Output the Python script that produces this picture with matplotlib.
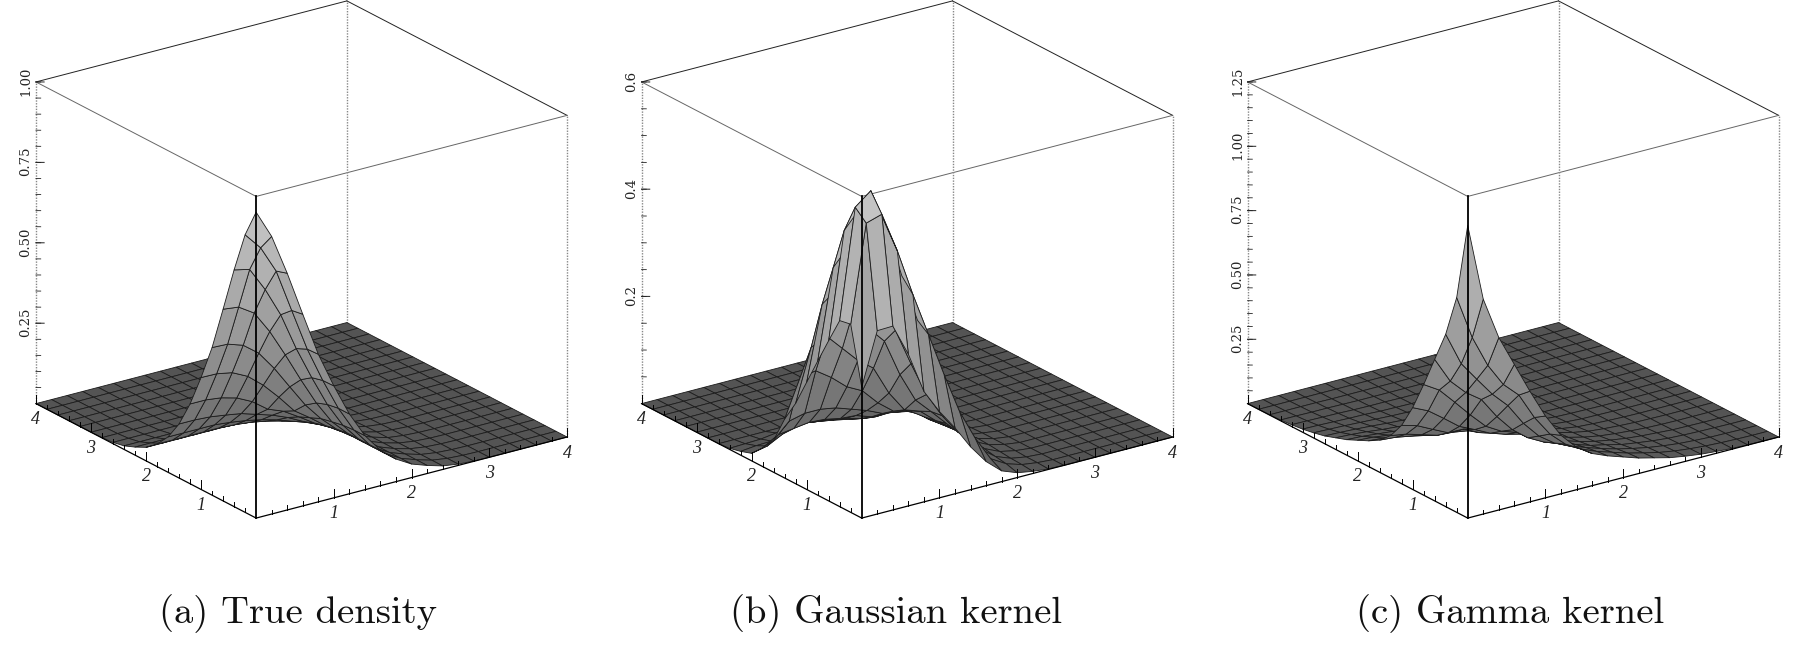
import numpy as np
import matplotlib
import matplotlib.pyplot as plt
from mpl_toolkits.mplot3d import proj3d

matplotlib.use("Agg")

W, H = 1793, 654
GRID = np.round(np.arange(21) * 0.2, 1)

# surface heights, nodes 0.2 apart, x index first
# true density and gamma kernel are symmetric: each row starts on the diagonal
TRUE_ROWS = [
    [.951, .863, .736, .596, .459, .348, .248, .168, .110, .070, .042, .025, .011, .004, .001],
    [.810, .725, .590, .457, .347, .248, .168, .110, .070, .042, .025, .011, .004, .001],
    [.650, .559, .441, .338, .242, .165, .110, .070, .042, .025, .011, .004, .001],
    [.489, .404, .314, .229, .158, .110, .070, .042, .024, .011, .004, .001],
    [.344, .274, .205, .150, .105, .070, .042, .024, .011, .004, .001],
    [.224, .169, .135, .098, .067, .042, .024, .010, .004, .001],
    [.150, .120, .088, .062, .040, .022, .010, .004, .001],
    [.100, .075, .053, .034, .020, .009, .003, .001],
    [.058, .041, .027, .015, .007, .002, .001],
    [.030, .020, .010, .004, .001],
    [.012, .006, .002],
    [.003, .001],
]
GAMMA_ROWS = [
    [1.137, .835, .670, .550, .430, .318, .227, .165, .125, .100, .080, .060, .045, .030, .020, .012, .007, .003, .001],
    [.664, .540, .450, .393, .290, .210, .155, .120, .095, .076, .057, .042, .028, .018, .011, .006, .003, .001],
    [.464, .390, .330, .245, .180, .137, .109, .088, .068, .051, .037, .025, .016, .009, .005, .002, .001],
    [.347, .265, .198, .151, .119, .096, .078, .058, .045, .030, .021, .013, .007, .004, .002, .001],
    [.205, .170, .150, .115, .090, .070, .051, .036, .025, .016, .010, .006, .002, .001],
    [.140, .120, .105, .085, .065, .045, .030, .019, .012, .007, .003, .001],
    [.105, .090, .075, .060, .042, .026, .015, .009, .005, .002, .001],
    [.072, .060, .047, .032, .019, .010, .006, .003, .001],
    [.047, .034, .023, .013, .007, .003, .002, .001],
    [.025, .016, .009, .004, .002, .001],
    [.010, .005, .002, .001],
    [.002, .001],
]
GAUSS_ROWS = [
    [.244, .351, .347, .299, .250, .200, .150, .110, .060, .035, .014, .007, .002],
    [.342, .532, .551, .497, .417, .338, .247, .180, .088, .052, .020, .010, .003],
    [.343, .541, .574, .530, .450, .360, .260, .185, .095, .056, .035, .011, .004],
    [.283, .465, .500, .470, .390, .310, .230, .165, .095, .060, .050, .030, .008],
    [.206, .376, .400, .385, .330, .270, .200, .140, .090, .058, .043, .030, .010],
    [.161, .294, .310, .300, .270, .239, .178, .125, .080, .052, .040, .025, .012],
    [.123, .212, .225, .220, .200, .169, .124, .095, .070, .050, .034, .020, .008],
    [.080, .135, .145, .145, .135, .114, .085, .072, .057, .040, .026, .014, .005],
    [.045, .078, .085, .090, .088, .085, .075, .065, .052, .040, .022, .008, .002],
    [.020, .032, .040, .048, .050, .055, .050, .046, .046, .037, .023, .010, .003],
    [.009, .015, .018, .022, .025, .030, .030, .026, .023, .023, .020, .006, .001],
    [.004, .006, .007, .009, .011, .012, .008, .006, .004, .003, .002, .001],
    [.001, .002, .002, .003, .004, .004, .004, .003, .002, .001, .001, .001],
]

Z_MAX = [1.0, 0.6, 1.25]
Z_TICKS = [[0.25, 0.50, 0.75, 1.00], [0.2, 0.4, 0.6], [0.25, 0.50, 0.75, 1.00, 1.25]]
Z_LABELS = [["0.25", "0.50", "0.75", "1.00"], ["0.2", "0.4", "0.6"], ["0.25", "0.50", "0.75", "1.00", "1.25"]]
Z_MINOR = [0.05, 0.05, 0.05]
XY_TICKS = [1, 2, 3, 4]
CAPTIONS = ["(a) True density", "(b) Gaussian kernel", "(c) Gamma kernel"]
CAPTION_X = [298, 896.5, 1510]
CENTER_X = [301.5, 907.1, 1513.1]   # pixel position of the box centre
CENTER_Y = 259.5

AXES_SIZE = 621.6


def symmetric_grid(rows):
    z = np.zeros((21, 21))
    for i, row in enumerate(rows):
        z[i, i:i + len(row)] = row
        z[i:i + len(row), i] = row
    return z


def full_grid(rows):
    z = np.zeros((21, 21))
    for i, row in enumerate(rows):
        z[i, :len(row)] = row
    return z


def cell_colors(z, zmax):
    mean = (z[:-1, :-1] + z[1:, :-1] + z[:-1, 1:] + z[1:, 1:]) / 4
    g = 0.33 + 0.47 * np.clip(mean / zmax, 0, 1) ** 0.8
    return np.dstack([g, g, g, np.ones_like(g)])


def label_at(ax, x, y, z, s, **kw):
    # 3d text would keep its raw position, so project it first
    px, py, _ = proj3d.proj_transform(x, y, z, ax.get_proj())
    ax.text2D(px, py, s, transform=ax.transData, ha="center", va="center", color="#222222", **kw)


def draw_panel(fig, z, n):
    zmax = Z_MAX[n]
    left = (CENTER_X[n] - 0.5135 * AXES_SIZE) / W
    bottom = (H - CENTER_Y - 0.5135 * AXES_SIZE) / H
    ax = fig.add_axes([left, bottom, AXES_SIZE / W, AXES_SIZE / H], projection="3d")
    ax.set_proj_type("ortho")
    ax.view_init(elev=21.6, azim=-125.3)
    ax.set_box_aspect((1, 1, 0.908))
    ax.set_xlim(0, 4)
    ax.set_ylim(0, 4)
    ax.set_zlim(0, zmax)
    ax.set_axis_off()
    ax.set_facecolor("none")
    ax.computed_zorder = False

    # box edges behind the surface
    dots = (0, (1, 1))
    for xs, ys, zs, c, ls, lw in [
        ([0, 4], [4, 4], [zmax, zmax], "#222222", "-", 0.7),
        ([4, 4], [4, 0], [zmax, zmax], "#222222", "-", 0.7),
        ([0, 0], [4, 0], [zmax, zmax], "#666666", "-", 0.7),
        ([0, 4], [0, 0], [zmax, zmax], "#666666", "-", 0.7),
        ([4, 4], [4, 4], [0, zmax], "#888888", dots, 1.0),
        ([4, 4], [0, 0], [0, zmax], "#888888", dots, 1.0),
        ([0, 0], [4, 4], [0, zmax], "#888888", dots, 1.0),
    ]:
        ax.plot(xs, ys, zs, color=c, ls=ls, lw=lw, zorder=1)

    X, Y = np.meshgrid(GRID, GRID, indexing="ij")
    ax.plot_surface(X, Y, z, rstride=1, cstride=1, facecolors=cell_colors(z, zmax),
                    edgecolor="#1c1c1c", linewidth=0.6, shade=False, antialiased=True, zorder=2)

    # front edges and ticks
    ax.plot([0, 0], [0, 0], [0, zmax], color="black", lw=1.3, zorder=3)
    ax.plot([0, 4], [0, 0], [0, 0], color="black", lw=0.9, zorder=3)
    ax.plot([0, 0], [0, 4], [0, 0], color="black", lw=0.9, zorder=3)
    for t in GRID[1:]:
        length = (0.028 if t in XY_TICKS else 0.014) * zmax
        ax.plot([t, t], [0, 0], [0, length], color="black", lw=0.7, zorder=3)
        ax.plot([0, 0], [t, t], [0, length], color="black", lw=0.7, zorder=3)
    num_font = dict(fontsize=13, family="Liberation Serif", style="italic")
    for t in XY_TICKS:
        label_at(ax, t, 0, -0.05 * zmax, str(t), **num_font)
        label_at(ax, 0, t, -0.05 * zmax, str(t), **num_font)

    # height axis on the left edge
    k = 1
    while k * Z_MINOR[n] < zmax + 1e-6:
        ax.plot([0, 0.04], [4, 3.97], [k * Z_MINOR[n]] * 2, color="#222222", lw=0.6, zorder=1)
        k += 1
    for t, label in zip(Z_TICKS[n], Z_LABELS[n]):
        ax.plot([0, 0.07], [4, 3.95], [t, t], color="#222222", lw=0.7, zorder=1)
        label_at(ax, -0.07, 4.08, t, label, rotation=90, fontsize=9.5, family="DejaVu Serif")
    return ax


fig = plt.figure(figsize=(W / 100, H / 100), dpi=100)
surfaces = [symmetric_grid(TRUE_ROWS), full_grid(GAUSS_ROWS), symmetric_grid(GAMMA_ROWS)]
for n, z in enumerate(surfaces):
    draw_panel(fig, z, n)
    fig.text(CAPTION_X[n] / W, 1 - 614 / H, CAPTIONS[n], ha="center", va="center",
             fontsize=27.8, family="cmr10", color="#111111")

fig.savefig("out.png", dpi=100)
